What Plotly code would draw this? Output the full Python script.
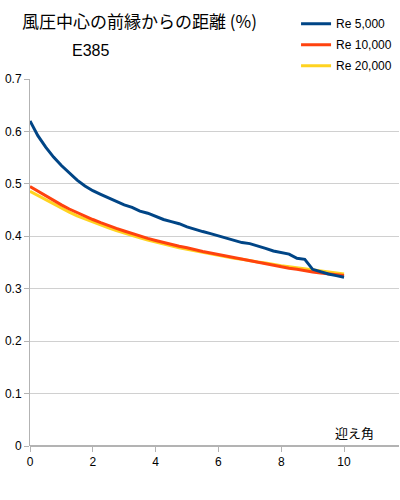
import plotly.graph_objects as go

angles = [0, 0.25, 0.5, 0.75, 1.0, 1.25, 1.5, 1.75, 2.0, 2.25, 2.5, 2.75, 3.0, 3.25, 3.5, 3.75,
          4.0, 4.25, 4.5, 4.75, 5.0, 5.25, 5.5, 5.75, 6.0, 6.25, 6.5, 6.75, 7.0, 7.25, 7.5, 7.75,
          8.0, 8.25, 8.5, 8.75, 9.0, 9.25, 9.5, 9.75, 10.0]

re5000 = [0.620, 0.592, 0.570, 0.551, 0.535, 0.520, 0.507, 0.496, 0.487, 0.480, 0.473, 0.466,
          0.460, 0.455, 0.448, 0.444, 0.438, 0.432, 0.428, 0.424, 0.418, 0.413, 0.409, 0.405,
          0.401, 0.397, 0.392, 0.388, 0.386, 0.382, 0.377, 0.372, 0.369, 0.366, 0.358, 0.356,
          0.337, 0.332, 0.328, 0.325, 0.322]

re10000 = [0.495, 0.486, 0.477, 0.468, 0.460, 0.452, 0.445, 0.438, 0.432, 0.426, 0.420, 0.415,
           0.410, 0.405, 0.401, 0.396, 0.392, 0.388, 0.385, 0.381, 0.378, 0.374, 0.371, 0.368,
           0.365, 0.362, 0.359, 0.356, 0.353, 0.351, 0.348, 0.345, 0.342, 0.339, 0.337, 0.334,
           0.332, 0.330, 0.328, 0.326, 0.325]

re20000 = [0.486, 0.478, 0.470, 0.461, 0.453, 0.446, 0.439, 0.433, 0.427, 0.421, 0.416, 0.411,
           0.406, 0.401, 0.397, 0.393, 0.389, 0.385, 0.382, 0.378, 0.375, 0.372, 0.369, 0.366,
           0.363, 0.361, 0.358, 0.356, 0.353, 0.351, 0.349, 0.346, 0.344, 0.342, 0.340, 0.337,
           0.335, 0.333, 0.331, 0.330, 0.328]

series_names = ["Re 5,000", "Re 10,000", "Re 20,000"]
series_colors = ["#004586", "#ff420e", "#ffd320"]

x_ticks = [0, 2, 4, 6, 8, 10]
y_ticks = [0, 0.1, 0.2, 0.3, 0.4, 0.5, 0.6, 0.7]
y_tick_labels = ["0", "0.1", "0.2", "0.3", "0.4", "0.5", "0.6", "0.7"]

FONT = "Liberation Sans, Arial, sans-serif"
CJK = "Noto Sans CJK JP"

fig = go.Figure()
series = list(zip(series_names, [re5000, re10000, re20000], series_colors))
# draw yellow first, blue last (blue on top); legend order via legendrank
for rank, (name, vals, col) in reversed(list(enumerate(series))):
    fig.add_trace(go.Scatter(x=angles, y=vals, mode="lines", name=name,
                             legendgroup=name, legendrank=rank + 1,
                             line=dict(color=col, width=3)))

fig.update_layout(
    width=400, height=500,
    margin=dict(l=30, r=1, t=79, b=54, autoexpand=False),
    paper_bgcolor="white", plot_bgcolor="white",
    font=dict(family=FONT, size=12, color="#000000"),
    showlegend=True,
    legend=dict(x=0.721, xanchor="left", y=1.19, yanchor="top",
                traceorder="grouped", font=dict(size=12, family=FONT),
                itemwidth=30, tracegroupgap=2, bgcolor="rgba(0,0,0,0)",
                borderwidth=0),
    xaxis=dict(range=[0, 11.75], tickvals=x_ticks, showgrid=False, showline=False,
               zeroline=False, ticks="outside", ticklen=5, tickcolor="#b3b3b3",
               tickfont=dict(size=12, family=FONT)),
    yaxis=dict(range=[0, 0.7], tickvals=y_ticks, ticktext=y_tick_labels,
               showgrid=True, gridcolor="#d0d0d0", gridwidth=1,
               showline=True, linecolor="#b3b3b3", linewidth=1,
               zeroline=True, zerolinecolor="#b3b3b3",
               ticks="outside", ticklen=5, tickcolor="#b3b3b3",
               tickfont=dict(size=12, family=FONT)),
    annotations=[
        dict(text="風圧中心の前縁からの距離 (%)", xref="paper", yref="paper",
             x=-0.027, y=1.0, xanchor="left", yanchor="middle", yshift=59,
             showarrow=False, font=dict(size=17, family=CJK)),
        dict(text="E385", xref="paper", yref="paper", x=0.108, y=1.0,
             xanchor="left", yanchor="middle", yshift=29,
             showarrow=False, font=dict(size=16, family=FONT)),
        dict(text="迎え角", xref="paper", yref="paper", x=0.821, y=0.0,
             xanchor="left", yanchor="middle", yshift=14,
             showarrow=False, font=dict(size=13, family=CJK)),
    ],
)

fig.write_html("out.html", config={"displayModeBar": False},
               post_script="document.body.style.margin='0';document.body.style.padding='0';")
